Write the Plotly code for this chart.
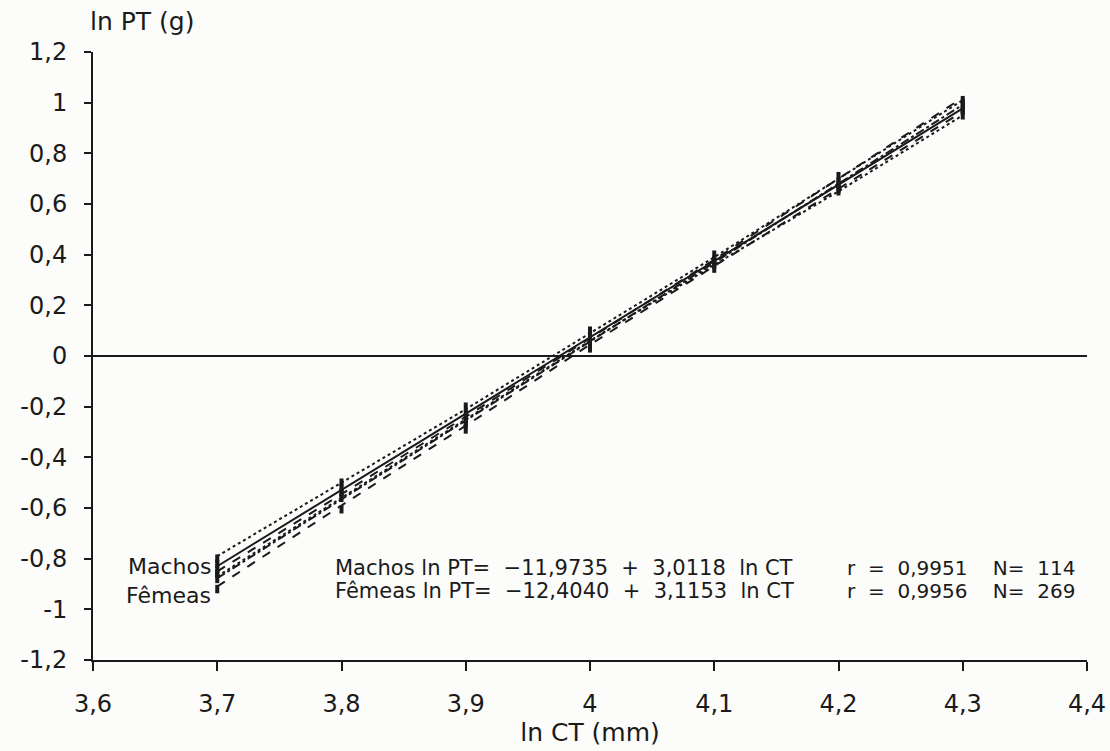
import plotly.graph_objects as go

# ---- data ----
x_nodes = [3.7, 3.8, 3.9, 4.0, 4.1, 4.2, 4.3]

machos_a, machos_b = -11.9735, 3.0118
femeas_a, femeas_b = -12.4040, 3.1153

machos_upper = [-0.79, -0.50, -0.21, 0.09, 0.39, 0.70, 1.01]
machos_lower = [-0.87, -0.56, -0.25, 0.06, 0.36, 0.65, 0.95]
femeas_upper = [-0.85, -0.545, -0.24, 0.07, 0.38, 0.70, 1.02]
femeas_lower = [-0.91, -0.59, -0.275, 0.045, 0.355, 0.66, 0.965]

machos_pts_x = [3.7, 3.7, 3.7, 3.7, 3.8, 3.8, 3.8, 3.9, 3.9, 3.9, 4.0, 4.0, 4.0,
                4.1, 4.1, 4.1, 4.2, 4.2, 4.2, 4.3, 4.3, 4.3]
machos_pts_y = [-0.80, -0.82, -0.84, -0.86, -0.50, -0.52, -0.54, -0.20, -0.23, -0.26,
                0.10, 0.08, 0.06, 0.40, 0.38, 0.36, 0.71, 0.69, 0.67, 1.01, 0.99, 0.97]
femeas_pts_x = [3.7, 3.7, 3.7, 3.8, 3.8, 3.8, 3.9, 3.9, 3.9, 4.0, 4.0, 4.0,
                4.1, 4.1, 4.2, 4.2, 4.2, 4.3, 4.3, 4.3]
femeas_pts_y = [-0.86, -0.88, -0.92, -0.54, -0.56, -0.605, -0.25, -0.27, -0.29,
                0.07, 0.05, 0.03, 0.37, 0.345, 0.68, 0.66, 0.65, 1.00, 0.97, 0.95]

x_tickvals = [3.6, 3.7, 3.8, 3.9, 4.0, 4.1, 4.2, 4.3, 4.4]
x_ticktext = ["3,6", "3,7", "3,8", "3,9", "4", "4,1", "4,2", "4,3", "4,4"]
y_tickvals = [1.2, 1.0, 0.8, 0.6, 0.4, 0.2, 0, -0.2, -0.4, -0.6, -0.8, -1.0, -1.2]
y_ticktext = ["1,2", "1", "0,8", "0,6", "0,4", "0,2", "0", "-0,2", "-0,4", "-0,6",
              "-0,8", "-1", "-1,2"]

machos_fit = [machos_a + machos_b * x for x in x_nodes]
femeas_fit = [femeas_a + femeas_b * x for x in x_nodes]

BLACK = "#1a1a1a"
FONT = "DejaVu Sans"

fig = go.Figure()
fig.add_trace(go.Scatter(x=x_nodes, y=machos_upper, mode="lines",
                         line=dict(color=BLACK, width=2, dash="dot")))
fig.add_trace(go.Scatter(x=x_nodes, y=machos_lower, mode="lines",
                         line=dict(color=BLACK, width=2, dash="dot")))
fig.add_trace(go.Scatter(x=x_nodes, y=femeas_upper, mode="lines",
                         line=dict(color=BLACK, width=2, dash="dash")))
fig.add_trace(go.Scatter(x=x_nodes, y=femeas_lower, mode="lines",
                         line=dict(color=BLACK, width=2, dash="dash")))
fig.add_trace(go.Scatter(x=x_nodes, y=machos_fit, mode="lines",
                         line=dict(color=BLACK, width=2)))
fig.add_trace(go.Scatter(x=x_nodes, y=femeas_fit, mode="lines",
                         line=dict(color=BLACK, width=2, dash="dashdot")))
fig.add_trace(go.Scatter(x=machos_pts_x, y=machos_pts_y, mode="markers",
                         marker=dict(symbol="line-ns", size=6,
                                     line=dict(color=BLACK, width=4))))
fig.add_trace(go.Scatter(x=femeas_pts_x, y=femeas_pts_y, mode="markers",
                         marker=dict(symbol="line-ns", size=6,
                                     line=dict(color=BLACK, width=4))))

fig.update_layout(
    width=1110, height=751,
    margin=dict(l=93, r=23, t=52, b=91),
    paper_bgcolor="#fcfcfa", plot_bgcolor="#fcfcfa",
    showlegend=False,
    font=dict(family=FONT, color=BLACK, size=24),
)
fig.update_xaxes(range=[3.6, 4.4], tickvals=x_tickvals, ticktext=x_ticktext,
                 ticks="outside", ticklen=9, tickwidth=2, tickcolor=BLACK,
                 showline=True, linecolor=BLACK, linewidth=2, automargin=False,
                 showgrid=False, zeroline=False, ticklabelstandoff=12,
                 tickfont=dict(size=24, family=FONT),
                 title=dict(text="ln CT (mm)", font=dict(size=25, family=FONT), standoff=2))
fig.update_yaxes(range=[-1.2, 1.2], tickvals=y_tickvals, ticktext=y_ticktext,
                 ticks="outside", ticklen=7, tickwidth=2, tickcolor=BLACK,
                 showline=True, linecolor=BLACK, linewidth=2, ticklabelstandoff=12,
                 automargin=False,
                 showgrid=False, zeroline=True, zerolinecolor=BLACK, zerolinewidth=1.8,
                 tickfont=dict(size=24, family=FONT))

annots = [
    dict(xref="paper", yref="paper", xanchor="left", yanchor="middle",
         text="ln PT (g)", showarrow=False, font=dict(size=25),
         x=(88 - 93) / (1110 - 93 - 23), y=1 + (52 - 22) / (751 - 52 - 91)),
    dict(x=3.7, y=-0.83, xanchor="right", yanchor="middle", text="Machos",
         showarrow=False, xshift=-4, font=dict(size=22)),
    dict(x=3.7, y=-0.945, xanchor="right", yanchor="middle", text="Fêmeas",
         showarrow=False, xshift=-4, font=dict(size=22)),
    dict(x=3.7935, y=-0.838, xanchor="left", yanchor="middle",
         text="Machos ln PT=  −11,9735  +  3,0118  ln CT",
         showarrow=False, font=dict(size=21)),
    dict(x=3.7935, y=-0.929, xanchor="left", yanchor="middle",
         text="Fêmeas ln PT=  −12,4040  +  3,1153  ln CT",
         showarrow=False, font=dict(size=21)),
    dict(x=4.205, y=-0.838, xanchor="left", yanchor="middle",
         text="r  =  0,9951    N=  114",
         showarrow=False, font=dict(size=20)),
    dict(x=4.205, y=-0.929, xanchor="left", yanchor="middle",
         text="r  =  0,9956    N=  269",
         showarrow=False, font=dict(size=20)),
]
fig.update_layout(annotations=annots)

fig.write_html("out.html")
